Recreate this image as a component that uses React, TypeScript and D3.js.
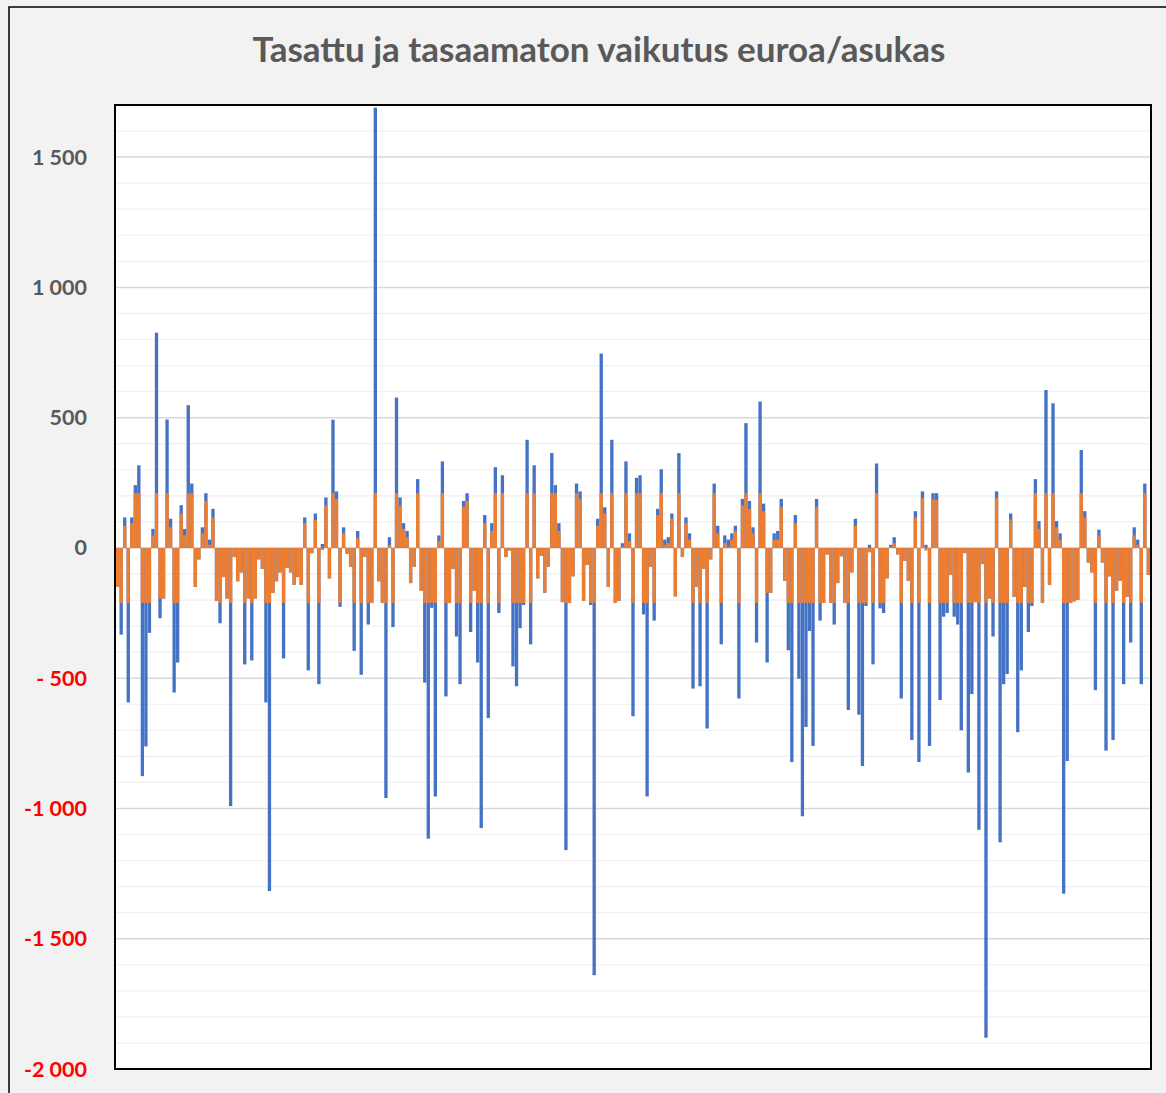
import React from 'react';
import * as d3 from 'd3';

// Tasaamaton vaikutus (blue) ja tasattu vaikutus (orange), euroa/asukas, one value per municipality
const untreated = [
  -150, -333, 117, -593, 117, 241, 317, -876, -762, -326,
  73, 826, -270, -194, 493, 112, -555, -440, 164, 73,
  548, 247, -150, -44, 79, 210, 32, 150, -203, -289,
  -112, -194, -991, -35, -128, -94, -447, -194, -432, -194,
  -44, -80, -593, -1317, -173, -128, -94, -424, -76, -94,
  -142, -112, -142, 117, -470, -20, 132, -523, 15, 194,
  -117, 492, 217, -226, 79, -22, -73, -395, 65, -487,
  -35, -294, -211, 1690, -128, -211, -960, 41, -304, 577,
  194, 95, 65, -135, -73, 264, -164, -517, -1116, -230,
  -954, 48, 332, -570, -211, -80, -340, -523, 180, 210,
  -323, -164, -440, -1075, 126, -653, 95, 310, -250, 279,
  -35, -10, -455, -531, -308, -219, 415, -370, 317, -117,
  -30, -172, -72, 364, 241, 95, -208, -1160, -211, -109,
  247, 217, -203, -65, -219, -1640, 112, 746, 156, -150,
  415, -211, -203, 18, 332, 56, -646, 269, 279, -255,
  -954, -73, -279, 150, 302, 32, 41, 132, -186, 364,
  -35, 117, 56, -540, -150, -531, -80, -693, -44, 247,
  85, -370, 48, 32, 56, 85, -578, 188, 479, 180,
  79, -363, 562, 170, -440, -173, 56, 65, 188, -126,
  -393, -822, 126, -502, -1030, -687, -319, -760, 188, -279,
  -211, -25, -211, -294, -135, -32, -211, -622, -94, 112,
  -640, -837, -223, 12, -447, 324, -232, -250, -117, 12,
  41, -25, -578, -50, -126, -737, 141, -822, 217, 12,
  -760, 210, 210, -584, -264, -250, -103, -264, -294, -700,
  -20, -862, -561, -208, -1082, -62, -1880, -194, -340, 217,
  -1130, -523, -484, 132, -188, -707, -470, -150, -323, -223,
  264, 103, -211, 606, -142, 555, 103, 56, -1327, -818,
  -211, -205, -200, 376, 141, -56, -94, -546, 70, -56,
  -778, -109, -737, -164, -126, -523, -188, -363, 79, 32,
  -523, 247, -103,
];

const smoothed = [
  -150, -211, 85, -211, 95, 210, 210, -211, -211, -211,
  48, 210, -194, -194, 210, 79, -211, -211, 132, 48,
  210, 210, -150, -44, 56, 180, 12, 117, -203, -211,
  -112, -194, -211, -35, -128, -94, -211, -194, -211, -194,
  -44, -80, -211, -211, -173, -128, -94, -211, -76, -94,
  -142, -112, -142, 95, -211, -20, 107, -211, -8, 163,
  -117, 210, 188, -211, 56, -22, -73, -211, 38, -211,
  -35, -211, -211, 210, -128, -211, -211, 12, -211, 210,
  163, 73, 41, -135, -73, 210, -164, -211, -211, -211,
  -211, 26, 210, -211, -211, -80, -211, -211, 158, 180,
  -211, -164, -211, -211, 95, -211, 65, 210, -211, 210,
  -35, -10, -211, -211, -211, -211, 210, -211, 210, -117,
  -30, -172, -72, 210, 210, 65, -208, -211, -211, -109,
  210, 188, -203, -65, -211, -211, 85, 210, 132, -150,
  210, -211, -203, 5, 210, 26, -211, 210, 210, -211,
  -211, -73, -211, 126, 210, 12, 19, 112, -186, 210,
  -35, 95, 32, -211, -150, -211, -80, -211, -44, 210,
  56, -211, 19, 5, 32, 65, -211, 163, 210, 150,
  56, -211, 210, 141, -173, -173, 32, 32, 156, -126,
  -211, -211, 95, -211, -211, -211, -211, -211, 156, -211,
  -211, -25, -211, -211, -135, -32, -211, -211, -94, 85,
  -211, -211, -211, -17, -211, 210, -211, -211, -117, 5,
  19, -25, -211, -50, -126, -211, 117, -211, 192, -10,
  -211, 185, 185, -211, -211, -211, -103, -211, -211, -211,
  -20, -211, -211, -208, -211, -62, -211, -194, -211, 192,
  -211, -211, -211, 109, -188, -211, -211, -150, -211, -211,
  210, 73, -211, 210, -142, 210, 79, 32, -211, -211,
  -211, -205, -200, 210, 117, -56, -94, -211, 48, -56,
  -211, -109, -211, -164, -126, -211, -188, -211, 48, 12,
  -211, 210, -103,
];

const yTicks = [1500, 1000, 500, 0, -500, -1000, -1500, -2000];
const yTickLabels = ['1 500', '1 000', '500', '0', '- 500', '-1 000', '-1 500', '-2 000'];
const minorTicks = d3.range(-1900, 1700, 100);

const title = 'Tasattu ja tasaamaton vaikutus euroa/asukas';

const W = 1166;
const H = 1093;
const plot = { left: 115, right: 1151, top: 105, bottom: 1069 };

export default function App() {
  const idx = untreated.map((_, i) => i);
  const x = d3.scaleBand<number>()
    .domain(idx)
    .range([plot.left + 1, plot.right - 1])
    .paddingInner(0.06);
  const y = d3.scaleLinear().domain([-2000, 1700]).range([plot.bottom, plot.top]);
  const y0 = y(0);

  const bar = (v: number, i: number, color: string, key: string) => (
    <rect
      key={key}
      x={x(i)}
      width={x.bandwidth()}
      y={Math.min(y(v), y0)}
      height={Math.abs(y(v) - y0)}
      fill={color}
    />
  );

  return (
    <svg width={W} height={H} style={{ display: 'block', position: 'absolute', left: 0, top: 0 }}>
      <rect x={0} y={0} width={W} height={H} fill="#f2f2f2" />
      <rect x={9} y={7} width={W + 20} height={H + 20} fill="#f2f2f2" stroke="#000" strokeWidth={1.5} />
      <text
        x={599}
        y={62}
        textAnchor="middle"
        fontFamily="Lato, 'Open Sans', sans-serif"
        fontWeight={700}
        fontSize={35}
        fill="#595959"
      >
        {title}
      </text>
      <rect
        x={plot.left}
        y={plot.top}
        width={plot.right - plot.left}
        height={plot.bottom - plot.top}
        fill="#fff"
      />
      {minorTicks.filter(t => t % 500 !== 0).map(t => (
        <line key={'m' + t} x1={plot.left} x2={plot.right} y1={y(t)} y2={y(t)} stroke="#f0f0f0" strokeWidth={1.2} />
      ))}
      {yTicks.filter(t => t !== -2000).map(t => (
        <line key={'g' + t} x1={plot.left} x2={plot.right} y1={y(t)} y2={y(t)} stroke="#d9d9d9" strokeWidth={1.5} />
      ))}
      <g>{untreated.map((v, i) => bar(v, i, '#4472c4', 'b' + i))}</g>
      <g>{smoothed.map((v, i) => bar(v, i, '#ed7d31', 'o' + i))}</g>
      <rect
        x={plot.left}
        y={plot.top}
        width={plot.right - plot.left}
        height={plot.bottom - plot.top}
        fill="none"
        stroke="#000"
        strokeWidth={2}
      />
      {yTicks.map((t, i) => (
        <text
          key={'t' + t}
          x={87}
          y={y(t)}
          dy="0.35em"
          textAnchor="end"
          fontFamily="Lato, 'Open Sans', sans-serif"
          fontWeight={700}
          fontSize={21.5}
          fill={t < 0 ? '#ff0000' : '#595959'}
        >
          {yTickLabels[i]}
        </text>
      ))}
    </svg>
  );
}
